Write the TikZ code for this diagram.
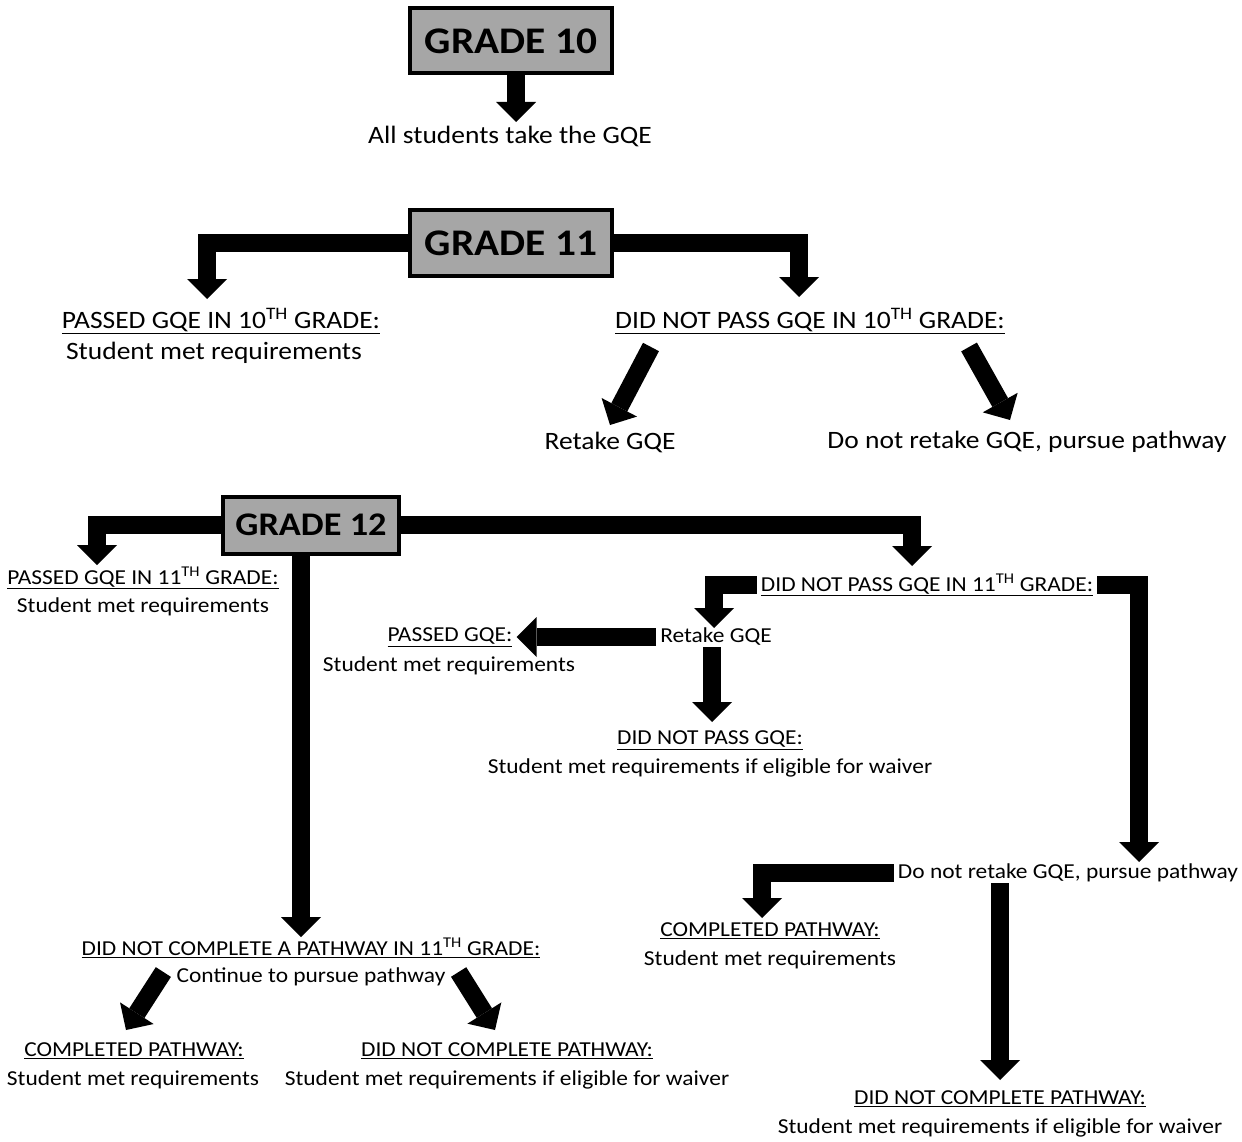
\documentclass[tikz,border=0pt]{standalone}
\usepackage{fontspec}
\setmainfont{Carlito}[FakeStretch=1.1]
\usetikzlibrary{arrows.meta}
\definecolor{boxgray}{RGB}{166,166,166}

\begin{document}
\begin{tikzpicture}[x=1pt,y=-1pt]

    \tikzset{
      grade/.style={
        draw,
        line width=4pt,
        fill=boxgray,
        font=\fontsize{37.6}{40}\selectfont\bfseries,
        minimum width=202pt,
        minimum height=65pt,
        inner sep=0pt,
      },
      txt/.style={
        font=\fontsize{21.3}{25}\selectfont,
        inner xsep=4pt,
        inner ysep=1pt,
      },
      txtbig/.style={
        txt,
        font=\fontsize{25}{29}\selectfont,
      },
      bar/.style={
        line width=18pt,
        line join=miter,
        -{Triangle[width=40pt,length=20pt,line width=0pt]},
      },
    }
    \useasboundingbox (0,0) rectangle (1242,1142);

	\node[grade] (g10) at (511,41) {GRADE 10};
	\node[txtbig] (all10) at (510,136) {All students take the GQE};

	\node[grade] (g11) at (511,243) {GRADE 11};
	\node[txtbig] (pass10) at (221,321) {\underline{PASSED GQE IN 10\textsuperscript{TH} GRADE:}};
	\node[txtbig] (pass10b) at (214,353) {Student met requirements};
	\node[txtbig] (fail10) at (810,321) {\underline{DID NOT PASS GQE IN 10\textsuperscript{TH} GRADE:}};
	\node[txtbig] (retake10) at (610,442) {Retake GQE};
	\node[txtbig] (path10) at (1027,442) {Do not retake GQE, pursue pathway};

	\node[grade,minimum width=176pt,minimum height=57pt,font=\fontsize{33}{36}\selectfont\bfseries] (g12) at (311,525) {GRADE 12};
	\node[txt] (pass11) at (143,578) {\underline{PASSED GQE IN 11\textsuperscript{TH} GRADE:}};
	\node[txt] (pass11b) at (143,607) {Student met requirements};
	\node[txt] (fail11) at (927,585) {\underline{DID NOT PASS GQE IN 11\textsuperscript{TH} GRADE:}};
	\node[txt] (retake11) at (716,637) {Retake GQE};
	\node[txt] (passgqe) at (450,637) {\underline{PASSED GQE:}};
	\node[txt] (passgqeb) at (449,666) {Student met requirements};
	\node[txt] (failgqe) at (710,740) {\underline{DID NOT PASS GQE:}};
	\node[txt] (failgqeb) at (710,768) {Student met requirements if eligible for waiver};
	\node[txt] (path11) at (1068,873) {Do not retake GQE, pursue pathway};
	\node[txt] (comp11) at (770,931) {\underline{COMPLETED PATHWAY:}};
	\node[txt] (comp11b) at (770,960) {Student met requirements};
	\node[txt] (nocomp11) at (1000,1099) {\underline{DID NOT COMPLETE PATHWAY:}};
	\node[txt] (nocomp11b) at (1000,1128) {Student met requirements if eligible for waiver};
	\node[txt] (nocompA) at (311,948) {\underline{DID NOT COMPLETE A PATHWAY IN 11\textsuperscript{TH} GRADE:}};
	\node[txt] (cont) at (311,977) {Continue to pursue pathway};
	\node[txt] (comp12) at (134,1051) {\underline{COMPLETED PATHWAY:}};
	\node[txt] (comp12b) at (133,1080) {Student met requirements};
	\node[txt] (nocomp12) at (507,1051) {\underline{DID NOT COMPLETE PATHWAY:}};
	\node[txt] (nocomp12b) at (507,1080) {Student met requirements if eligible for waiver};

	\coordinate (to-all10) at (516,122);
	\coordinate (to-pass10) at (207,299);
	\coordinate (to-fail10) at (799,297);
	\coordinate (to-retake10) at (610,425);
	\coordinate (to-path10) at (1010,420);
	\coordinate (to-pass11) at (97,565);
	\coordinate (to-fail11) at (912,566);
	\coordinate (to-nocompA) at (301,937);
	\coordinate (to-retake11) at (714,628);
	\coordinate (to-failgqe) at (712,722);
	\coordinate (to-path11) at (1139,862);
	\coordinate (to-comp11) at (762,918);
	\coordinate (to-nocomp11) at (1000,1080);
	\coordinate (to-comp12) at (126,1030);
	\coordinate (to-nocomp12) at (495,1030);

	\draw[bar] (g10.south -| to-all10) -- (to-all10);
	\draw[bar] (g11.west) -| (to-pass10);
	\draw[bar] (g11.east) -| (to-fail10);
	\draw[bar] ([xshift=40pt,yshift=-12pt]fail10.south west) -- (to-retake10);
	\draw[bar] ([xshift=-40pt,yshift=-12pt]fail10.south east) -- (to-path10);
	\draw[bar] (g12.west) -| (to-pass11);
	\draw[bar] (g12.east) -| (to-fail11);
	\draw[bar] (g12.south -| to-nocompA) -- (to-nocompA);
	\draw[bar] (fail11.west) -| (to-retake11);
	\draw[bar] (fail11.east) -| (to-path11);
	\draw[bar] (retake11.west) -- (passgqe.east);
	\draw[bar] (retake11.south -| to-failgqe) -- (to-failgqe);
	\draw[bar] (path11.west) -| (to-comp11);
	\draw[bar] (path11.south -| to-nocomp11) -- (to-nocomp11);
	\draw[bar] ([xshift=-9pt,yshift=5pt]cont.west) -- (to-comp12);
	\draw[bar] ([xshift=9pt,yshift=5pt]cont.east) -- (to-nocomp12);

\end{tikzpicture}
\end{document}
